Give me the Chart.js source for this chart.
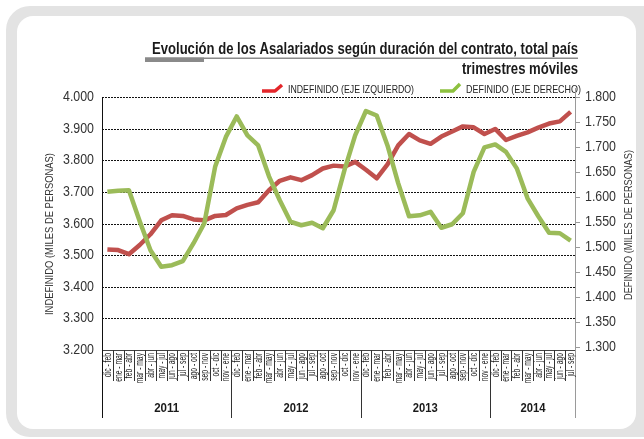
<!DOCTYPE html>
<html><head><meta charset="utf-8">
<script src="https://cdn.jsdelivr.net/npm/chart.js@4.4.1/dist/chart.umd.min.js"></script>
<style>html,body{margin:0;padding:0;background:#fff}canvas{display:block}</style>
</head><body>
<canvas id="c" width="644" height="439"></canvas>
<script>
const categories = [
 'dic - feb','ene - mar','feb - abr','mar - may','abr - jun','may - jul','jun - ago','jul - sep','ago - oct','sep - nov','oct - dic','nov - ene',
 'dic - feb','ene - mar','feb - abr','mar - may','abr - jun','may - jul','jun - ago','jul - sep','ago - oct','sep - nov','oct - dic','nov - ene',
 'dic - feb','ene - mar','feb - abr','mar - may','abr - jun','may - jul','jun - ago','jul - sep','ago - oct','sep - nov','oct - dic','nov - ene',
 'dic - feb','ene - mar','feb - abr','mar - may','abr - jun','may - jul','jun - ago','jul - sep'
];
const years = ['2011','2012','2013','2014'];
const yearSpans = [12,12,12,8];
const indefinido = [3518,3516,3503,3532,3566,3610,3626,3624,3613,3610,3624,3627,
 3648,3659,3667,3705,3735,3746,3737,3753,3774,3783,3780,3795,
 3770,3743,3787,3847,3883,3863,3852,3875,3891,3907,3904,3883,
 3899,3864,3877,3888,3903,3916,3923,3953];
const definido = [1610,1612,1613,1551,1493,1460,1463,1471,1507,1547,1660,1720,
 1761,1723,1703,1641,1593,1550,1543,1548,1537,1573,1653,1723,
 1772,1763,1703,1627,1561,1563,1570,1538,1545,1567,1650,1699,
 1705,1690,1657,1597,1561,1528,1527,1512];
const leftTicks = [3200,3300,3400,3500,3600,3700,3800,3900,4000];
const rightTicks = [1300,1350,1400,1450,1500,1550,1600,1650,1700,1750,1800];
const titleLine1 = 'Evolución de los Asalariados según duración del contrato, total país';
const titleLine2 = 'trimestres móviles';
const legendLabels = ['INDEFINIDO (EJE IZQUIERDO)','DEFINIDO (EJE DERECHO)'];
const axisTitles = ['INDEFINIDO (MILES DE PERSONAS)','DEFINIDO (MILES DE PERSONAS)'];

const FONT = "'Liberation Sans',Arial,sans-serif";

function fitText(ctx, text, x, y, width, align, font, color, rot, baseline) {
  ctx.save();
  ctx.font = font; ctx.fillStyle = color;
  ctx.textBaseline = baseline || 'alphabetic';
  const w = ctx.measureText(text).width;
  ctx.translate(x, y);
  if (rot) ctx.rotate(rot);
  ctx.scale(width / w, 1);
  ctx.textAlign = align;
  ctx.fillText(text, 0, 0);
  ctx.restore();
}
function scaledText(ctx, text, x, y, sx, align, font, color, baseline) {
  ctx.save();
  ctx.font = font; ctx.fillStyle = color;
  ctx.textBaseline = baseline || 'middle';
  ctx.translate(x, y);
  ctx.scale(sx, 1);
  ctx.textAlign = align;
  ctx.fillText(text, 0, 0);
  ctx.restore();
}
function rr(ctx, x, y, w, h, r) {
  ctx.beginPath();
  ctx.moveTo(x + r, y); ctx.lineTo(x + w - r, y); ctx.arcTo(x + w, y, x + w, y + r, r);
  ctx.lineTo(x + w, y + h - r); ctx.arcTo(x + w, y + h, x + w - r, y + h, r);
  ctx.lineTo(x + r, y + h); ctx.arcTo(x, y + h, x, y + h - r, r);
  ctx.lineTo(x, y + r); ctx.arcTo(x, y, x + r, y, r);
  ctx.closePath();
}
const fmt = v => (v / 1000).toFixed(3);

const decor = {
  id: 'decor',
  beforeDraw(chart) {
    const ctx = chart.ctx;
    ctx.save();
    ctx.fillStyle = '#fff'; ctx.fillRect(0, 0, 644, 439);
    ctx.fillStyle = '#e3e3e3'; rr(ctx, 6, 6, 660, 431, 24); ctx.fill();
    ctx.fillStyle = '#fff'; rr(ctx, 17, 16, 619, 413, 16); ctx.fill();
    // title
    fitText(ctx, titleLine1, 578, 53.5, 426, 'right', 'bold 16px ' + FONT, '#1a1a1a');
    fitText(ctx, titleLine2, 578, 74, 116, 'right', 'bold 16px ' + FONT, '#1a1a1a');
    ctx.fillStyle = '#8a8a8a';
    ctx.fillRect(145, 57.5, 433, 1.5);
    ctx.fillRect(145, 57.5, 59, 4.5);
    // legend
    ctx.lineWidth = 3.5; ctx.lineJoin = 'round';
    ctx.strokeStyle = '#e4262a';
    ctx.beginPath(); ctx.moveTo(262, 91); ctx.lineTo(275, 91); ctx.lineTo(282, 85); ctx.stroke();
    ctx.strokeStyle = '#8dc13f';
    ctx.beginPath(); ctx.moveTo(440, 91); ctx.lineTo(453, 91); ctx.lineTo(460, 84); ctx.stroke();
    fitText(ctx, legendLabels[0], 288, 93, 126, 'left', '11px ' + FONT, '#222');
    fitText(ctx, legendLabels[1], 466, 93, 115, 'left', '11px ' + FONT, '#222');
    ctx.restore();
  },
  beforeDatasetsDraw(chart) {
    const { ctx, chartArea: ca, scales } = chart;
    const ys = scales.y, xs = scales.x, yr = scales.y1;
    ctx.save();
    // dashed gridlines
    ctx.strokeStyle = '#111'; ctx.lineWidth = 1; ctx.setLineDash([2, 1]);
    leftTicks.forEach(v => {
      if (v === leftTicks[0]) return;
      const y = Math.round(ys.getPixelForValue(v)) + 0.5;
      ctx.beginPath(); ctx.moveTo(ca.left, y); ctx.lineTo(ca.right, y); ctx.stroke();
    });
    ctx.setLineDash([]);
    // bottom line
    const yb = Math.round(ca.bottom) + 0.5;
    ctx.strokeStyle = '#444';
    ctx.beginPath(); ctx.moveTo(ca.left, yb); ctx.lineTo(ca.right, yb); ctx.stroke();
    // left tick labels
    ctx.font = '14.5px ' + FONT;
    const tickSx = 31 / ctx.measureText('4.000').width;
    leftTicks.forEach(v => {
      scaledText(ctx, fmt(v), 94, ys.getPixelForValue(v), tickSx, 'right', '14.5px ' + FONT, '#333');
    });
    // right ticks + labels
    ctx.strokeStyle = '#9a9a9a';
    rightTicks.forEach(v => {
      const y = yr.getPixelForValue(v);
      const yy = Math.round(y) + 0.5;
      ctx.beginPath(); ctx.moveTo(ca.right, yy); ctx.lineTo(ca.right + 4, yy); ctx.stroke();
      scaledText(ctx, fmt(v), 585, y, tickSx, 'left', '14.5px ' + FONT, '#333');
    });
    // category separators
    const n = categories.length;
    const bounds = [];
    for (let k = 0; k <= n; k++) {
      let x;
      if (k === 0) x = ca.left; else if (k === n) x = ca.right;
      else x = (xs.getPixelForValue(k - 1) + xs.getPixelForValue(k)) / 2;
      bounds.push(x);
    }
    ctx.strokeStyle = '#333';
    for (let k = 1; k < n; k++) {
      const x = Math.round(bounds[k]) + 0.5;
      ctx.beginPath(); ctx.moveTo(x, ca.bottom); ctx.lineTo(x, 381); ctx.stroke();
    }
    // year separators
    let acc = 0;
    const yearBounds = [0];
    yearSpans.forEach(s => { acc += s; yearBounds.push(acc); });
    yearBounds.forEach((k, j) => {
      if (j === 0 || j === yearBounds.length - 1) return;
      const x = Math.round(bounds[k]) + 0.5;
      ctx.beginPath(); ctx.moveTo(x, ca.bottom); ctx.lineTo(x, 418); ctx.stroke();
    });
    // left axis line
    ctx.strokeStyle = '#111';
    let x = Math.round(ca.left) + 0.5;
    ctx.beginPath(); ctx.moveTo(x, ca.top); ctx.lineTo(x, 418); ctx.stroke();
    // right axis line
    ctx.strokeStyle = '#9a9a9a';
    x = Math.round(ca.right) - 0.5;
    ctx.beginPath(); ctx.moveTo(x, 88); ctx.lineTo(x, 418); ctx.stroke();
    // category labels
    ctx.font = '10.5px ' + FONT;
    const sc = 24 / ctx.measureText('dic - feb').width;
    ctx.fillStyle = '#1a1a1a';
    categories.forEach((c, i) => {
      ctx.save();
      ctx.translate(xs.getPixelForValue(i) + 0.5, 353);
      ctx.rotate(-Math.PI / 2);
      ctx.scale(sc, 1);
      ctx.textAlign = 'right'; ctx.textBaseline = 'middle';
      ctx.fillText(c, 0, 0);
      ctx.restore();
    });
    // year labels
    years.forEach((yr2, j) => {
      const cx = (bounds[yearBounds[j]] + bounds[yearBounds[j + 1]]) / 2;
      fitText(ctx, yr2, cx, 408, 25, 'center', 'bold 13.5px ' + FONT, '#1a1a1a', 0, 'middle');
    });
    // axis titles
    fitText(ctx, axisTitles[0], 50, 234, 162, 'center', '11.5px ' + FONT, '#333', -Math.PI / 2, 'middle');
    fitText(ctx, axisTitles[1], 629, 225, 150, 'center', '11.5px ' + FONT, '#333', -Math.PI / 2, 'middle');
    ctx.restore();
  }
};

new Chart(document.getElementById('c'), {
  type: 'line',
  data: {
    labels: categories,
    datasets: [
      { label: legendLabels[0], data: indefinido, yAxisID: 'y', borderColor: '#c0504d', borderWidth: 4.5,
        pointRadius: 0, tension: 0, fill: false, order: 1, borderJoinStyle: 'round' },
      { label: legendLabels[1], data: definido, yAxisID: 'y1', borderColor: '#9bbb59', borderWidth: 4.5,
        pointRadius: 0, tension: 0, fill: false, order: 0, borderJoinStyle: 'round' }
    ]
  },
  options: {
    responsive: false, devicePixelRatio: 1, animation: false,
    layout: { padding: { top: 97, left: 0, right: 0, bottom: 0 } },
    plugins: { legend: { display: false }, title: { display: false }, tooltip: { enabled: false } },
    scales: {
      x: {
        type: 'category', offset: true,
        grid: { display: false, drawTicks: false }, border: { display: false },
        ticks: { display: false },
        afterFit: s => { s.height = 89; }
      },
      y: {
        position: 'left', min: 3200, max: 4000,
        grid: { display: false, drawTicks: false }, border: { display: false },
        ticks: { display: false, stepSize: 100 },
        afterFit: s => { s.width = 102; }
      },
      y1: {
        position: 'right', min: 1293, max: 1800,
        grid: { display: false, drawTicks: false }, border: { display: false },
        ticks: { display: false },
        afterFit: s => { s.width = 68; }
      }
    }
  },
  plugins: [decor]
});
</script>
</body></html>
